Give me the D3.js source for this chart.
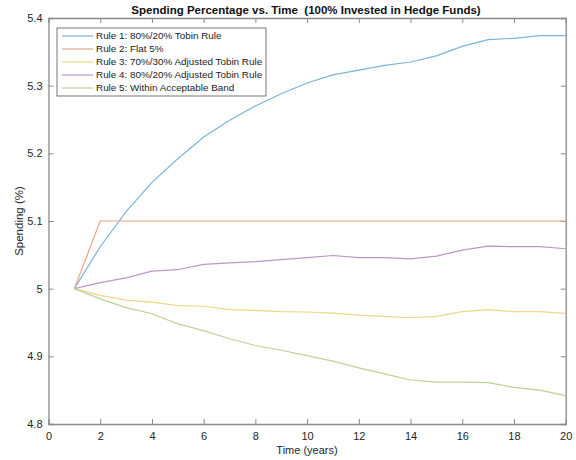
<!DOCTYPE html>
<html><head><meta charset="utf-8">
<script src="https://cdn.jsdelivr.net/npm/d3@7"></script>
<style>body{margin:0;background:#fff}svg{display:block;font-family:"Liberation Sans",Arial,sans-serif}</style>
</head><body><svg id="c" width="576" height="460"></svg>
<script>
const years = d3.range(1, 21);
const seriesNames = [
  "Rule 1: 80%/20% Tobin Rule",
  "Rule 2: Flat 5%",
  "Rule 3: 70%/30% Adjusted Tobin Rule",
  "Rule 4: 80%/20% Adjusted Tobin Rule",
  "Rule 5: Within Acceptable Band"
];
const rule1 = [5.000,5.062,5.114,5.157,5.192,5.224,5.249,5.270,5.288,5.304,5.316,5.323,5.330,5.335,5.344,5.358,5.368,5.370,5.374,5.374];
const rule2 = [5.000,5.100,5.100,5.100,5.100,5.100,5.100,5.100,5.100,5.100,5.100,5.100,5.100,5.100,5.100,5.100,5.100,5.100,5.100,5.100];
const rule3 = [5.000,4.990,4.983,4.980,4.975,4.974,4.969,4.968,4.966,4.9655,4.964,4.961,4.959,4.957,4.959,4.966,4.969,4.966,4.966,4.9635];
const rule4 = [5.000,5.009,5.016,5.026,5.028,5.036,5.038,5.040,5.043,5.046,5.049,5.046,5.046,5.044,5.048,5.057,5.063,5.062,5.062,5.059];
const rule5 = [5.000,4.985,4.972,4.963,4.948,4.938,4.926,4.916,4.909,4.901,4.893,4.883,4.874,4.865,4.862,4.862,4.861,4.854,4.850,4.842];
const colors = ["#78b6d8","#e6a886","#f2d683","#bd95ca","#bcd396"];
const xTicks = [0,2,4,6,8,10,12,14,16,18,20];
const yTicks = [4.8,4.9,5.0,5.1,5.2,5.3,5.4];
const allSeries = [rule1, rule2, rule3, rule4, rule5];

const svg = d3.select("#c");
const L = 48.5, R = 565.7, T = 18, B = 424;
const x = d3.scaleLinear().domain([0,20]).range([L,R]);
const y = d3.scaleLinear().domain([4.8,5.4]).range([B,T]);
const axisCol = "#8a8a8a", textCol = "#262626";

const gx = svg.append("g").attr("transform",`translate(0,${B})`)
  .call(d3.axisBottom(x).tickValues(xTicks).tickSize(-5).tickPadding(8).tickFormat(d3.format("d")));
const gxt = svg.append("g").attr("transform",`translate(0,${T})`)
  .call(d3.axisTop(x).tickValues(xTicks).tickSize(-5).tickFormat(""));
const gy = svg.append("g").attr("transform",`translate(${L},0)`)
  .call(d3.axisLeft(y).tickValues(yTicks).tickSize(-5).tickPadding(6).tickFormat(d => d3.format("")(+d.toFixed(1))));
const gyr = svg.append("g").attr("transform",`translate(${R},0)`)
  .call(d3.axisRight(y).tickValues(yTicks).tickSize(-5).tickFormat(""));
[gx,gxt,gy,gyr].forEach(g=>{
  g.selectAll("path").attr("stroke",axisCol).attr("stroke-width",1.3);
  g.selectAll("line").attr("stroke",axisCol);
  g.selectAll("text").attr("fill",textCol).attr("font-size",11).attr("font-family","Liberation Sans, Arial, sans-serif");
});
gx.selectAll(".tick").filter(d=>d===0||d===20).select("line").remove();
gxt.selectAll(".tick").filter(d=>d===0||d===20).select("line").remove();
gy.selectAll(".tick").filter(d=>d===4.8||d===5.4).select("line").remove();
gyr.selectAll(".tick").filter(d=>d===4.8||d===5.4).select("line").remove();
gy.selectAll("text").attr("dy","0.32em");
gx.selectAll("text").attr("dy","0.71em");

const line = d3.line().x((d,i)=>x(years[i])).y(d=>y(d));
svg.append("g").selectAll("path").data(allSeries).join("path")
  .attr("d", line).attr("fill","none")
  .attr("stroke",(d,i)=>colors[i]).attr("stroke-width",1.2);

svg.append("text").attr("x",306).attr("y",14).attr("text-anchor","middle")
  .attr("font-size",11.5).attr("font-weight","bold").attr("fill","#111")
  .style("white-space","pre")
  .text("Spending Percentage vs. Time  (100% Invested in Hedge Funds)");
svg.append("text").attr("x",307).attr("y",454).attr("text-anchor","middle")
  .attr("font-size",11).attr("fill",textCol).text("Time (years)");
svg.append("text").attr("transform","translate(23,221) rotate(-90)").attr("text-anchor","middle")
  .attr("font-size",11.5).attr("fill",textCol).text("Spending (%)");

const lg = svg.append("g");
lg.append("rect").attr("x",57).attr("y",28).attr("width",209).attr("height",68)
  .attr("fill","#fff").attr("stroke","#555").attr("stroke-width",0.8);
seriesNames.forEach((n,i)=>{
  const yy = 36 + i*13;
  lg.append("line").attr("x1",62).attr("x2",93).attr("y1",yy).attr("y2",yy)
    .attr("stroke",colors[i]).attr("stroke-width",1.2);
  lg.append("text").attr("x",96).attr("y",yy).attr("dy","0.35em")
    .attr("font-size",9.9).attr("fill","#222").text(n);
});
</script></body></html>
